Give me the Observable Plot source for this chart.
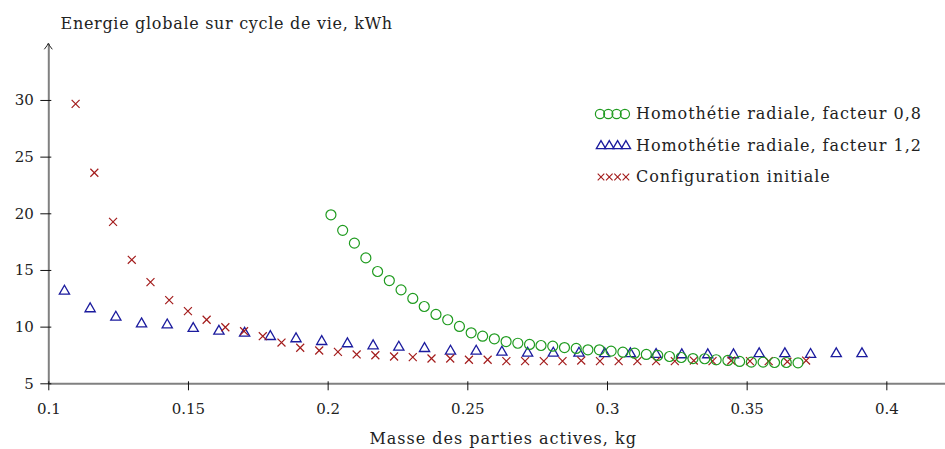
<!DOCTYPE html>
<html><head><meta charset="utf-8">
<script src="https://cdn.jsdelivr.net/npm/d3@7"></script>
<script src="https://cdn.jsdelivr.net/npm/@observablehq/plot@0.6"></script>
<style>
html,body{margin:0;padding:0;background:#fff;}
#chart{position:relative;width:945px;height:449px;overflow:hidden;}
</style></head><body><div id="chart"></div>
<script>
// ---- data ----
const xInit = [0.1096,0.1163,0.1230,0.1297,0.1364,0.1431,0.1498,0.1565,0.1632,0.1699,
  0.1766,0.1833,0.1900,0.1968,0.2035,0.2102,0.2169,0.2236,0.2303,0.2370,
  0.2437,0.2504,0.2571,0.2638,0.2705,0.2772,0.2839,0.2906,0.2973,0.3040,
  0.3107,0.3174,0.3241,0.3309,0.3376,0.3443,0.3510,0.3577,0.3644,0.3711];
const yInit = [29.7,23.62,19.29,15.94,13.97,12.38,11.41,10.65,9.99,9.64,
  9.2,8.64,8.18,7.94,7.82,7.59,7.52,7.41,7.35,7.23,
  7.23,7.12,7.12,7.0,7.0,7.0,7.0,7.05,7.0,7.0,
  7.0,7.0,7.0,7.05,7.0,7.05,7.0,7.0,6.95,7.05];
const xF12 = [0.1056,0.1148,0.1240,0.1332,0.1424,0.1517,0.1609,0.1701,0.1793,0.1885,
  0.1977,0.2069,0.2161,0.2253,0.2345,0.2438,0.2530,0.2622,0.2714,0.2806,
  0.2898,0.2990,0.3082,0.3174,0.3266,0.3359,0.3451,0.3543,0.3635,0.3727,
  0.3819,0.3911];
const yF12 = [13.17,11.62,10.88,10.29,10.2,9.88,9.64,9.46,9.17,8.97,
  8.73,8.53,8.35,8.23,8.11,7.88,7.88,7.79,7.70,7.70,
  7.70,7.65,7.65,7.59,7.56,7.56,7.56,7.65,7.65,7.59,
  7.65,7.65];
const xF08 = [0.2010,0.2052,0.2094,0.2135,0.2177,0.2219,0.2261,0.2303,0.2344,0.2386,
  0.2428,0.2470,0.2512,0.2553,0.2595,0.2637,0.2679,0.2721,0.2762,0.2804,
  0.2846,0.2888,0.2930,0.2971,0.3013,0.3055,0.3097,0.3139,0.3180,0.3222,
  0.3264,0.3306,0.3348,0.3389,0.3431,0.3473,0.3515,0.3557,0.3598,0.3640,
  0.3682];
const yF08 = [19.91,18.54,17.41,16.11,14.91,14.11,13.29,12.53,11.82,11.12,
  10.65,10.06,9.50,9.20,8.97,8.73,8.58,8.47,8.38,8.32,
  8.2,8.12,8.0,8.0,7.88,7.79,7.70,7.59,7.50,7.41,
  7.32,7.23,7.21,7.12,7.06,6.97,6.91,6.91,6.88,6.88,
  6.85];
const seriesNames = ["Homothétie radiale, facteur 0,8","Homothétie radiale, facteur 1,2","Configuration initiale"];
const xTicks = [0.1,0.15,0.2,0.25,0.3,0.35,0.4];
const xTickLabels = ["0.1","0.15","0.2","0.25","0.3","0.35","0.4"];
const yTicks = [5,10,15,20,25,30];
const yTickLabels = ["5","10","15","20","25","30"];
const titleText = "Energie globale sur cycle de vie, kWh";
const xLabelText = "Masse des parties actives, kg";

// ---- style ----
const FONT = "'DejaVu Serif', serif";
const cGreen = "#1f9b1f", cBlue = "#1b1b9e", cRed = "#a31c1c";
const axisGray = "#808080";
const xDomain = [0.1, 0.421];
const yDomain = [5, 35];

const toRows = (xs, ys) => xs.map((x, i) => ({x, y: ys[i]}));
const dG = toRows(xF08, yF08), dB = toRows(xF12, yF12), dR = toRows(xInit, yInit);

const plot = Plot.plot({
  width: 945, height: 449,
  marginLeft: 48.3, marginRight: 0, marginTop: 43.3, marginBottom: 65.7,
  x: {domain: xDomain},
  y: {domain: yDomain},
  style: {fontFamily: FONT, fontSize: "15px", background: "#fff", color: "#222", overflow: "visible"},
  marks: [
    Plot.link([0], {x1: xDomain[0], x2: xDomain[1], y1: yDomain[0], y2: yDomain[0], stroke: axisGray, strokeWidth: 2}),
    Plot.link([0], {x1: xDomain[0], x2: xDomain[0], y1: yDomain[0], y2: yDomain[1], stroke: axisGray, strokeWidth: 2}),
    Plot.axisY({ticks: yTicks, tickFormat: (d) => yTickLabels[yTicks.indexOf(d)], tickSize: 11, dx: 3, tickPadding: 7, stroke: "#111", strokeWidth: 1, fontSize: 15, label: null, color: "#222"}),
    Plot.axisX({ticks: xTicks, tickFormat: d => xTickLabels[xTicks.indexOf(d)], tickSize: 9, dy: -2, tickPadding: 13, stroke: "#111", strokeWidth: 1, fontSize: 15, label: null, color: "#222"}),
    Plot.dot(dB, {x: "x", y: "y", symbol: "triangle", r: 3.8, stroke: cBlue, strokeWidth: 1.3, fill: "none"}),
    Plot.dot(dR, {x: "x", y: "y", symbol: "times", r: 3.7, stroke: cRed, strokeWidth: 1.2}),
    Plot.dot(dG, {x: "x", y: "y", symbol: "circle", r: 5, stroke: cGreen, strokeWidth: 1.2, fill: "none"}),
    Plot.text([titleText], {frameAnchor: "top-left", text: d => d, dx: 11.7, dy: -14.8, textAnchor: "start", lineAnchor: "bottom", fontSize: 16, fill: "#222", className: "ttl"}),
    Plot.text([xLabelText], {frameAnchor: "bottom", text: d => d, dx: 6, dy: 60, lineAnchor: "bottom", fontSize: 16, fill: "#222", className: "xlab"})
  ]
});

const svg = d3.select(plot);
svg.selectAll(".ttl text").attr("letter-spacing", "0.7px");
svg.selectAll(".xlab text").attr("letter-spacing", "1px");

// arrow head on y axis
const yTop = 43.3;
svg.append("path").attr("d", `M44.3,${yTop+6} Q47.5,${yTop+2} 48.3,${yTop} Q49.1,${yTop+2} 52.3,${yTop+6}`)
  .attr("fill", "none").attr("stroke", "#222").attr("stroke-width", 1);

// legend
const lg = svg.append("g").attr("font-family", FONT).attr("font-size", 16).attr("fill", "#222").attr("text-anchor", "start");
const legendItems = [
  {name: seriesNames[0], color: cGreen, kind: "circle"},
  {name: seriesNames[1], color: cBlue, kind: "triangle"},
  {name: seriesNames[2], color: cRed, kind: "times"}
];
legendItems.forEach((it, k) => {
  const cy = 114 + k * 31.5;
  const g = lg.append("g");
  for (let j = 0; j < 4; j++) {
    const cx = it.kind === "circle" ? 600 + j * 8.3 : 601 + j * 8.3;
    if (it.kind === "circle") {
      g.append("circle").attr("cx", cx).attr("cy", cy).attr("r", 4.6).attr("fill", "none").attr("stroke", it.color).attr("stroke-width", 1.2);
    } else {
      const sym = it.kind === "triangle" ? d3.symbolTriangle : d3.symbolTimes;
      const size = it.kind === "triangle" ? 38 : 30;
      g.append("path").attr("d", d3.symbol(sym, size)()).attr("transform", `translate(${cx},${cy + (it.kind === "triangle" ? 0.5 : 0)})`)
        .attr("fill", "none").attr("stroke", it.color).attr("stroke-width", it.kind === "triangle" ? 1.3 : 1.1);
    }
  }
  lg.append("text").attr("x", 636).attr("y", cy + 5).attr("text-anchor", "start").attr("letter-spacing", "0.95px").text(it.name);
});

document.getElementById("chart").appendChild(plot);
</script>
</body></html>
